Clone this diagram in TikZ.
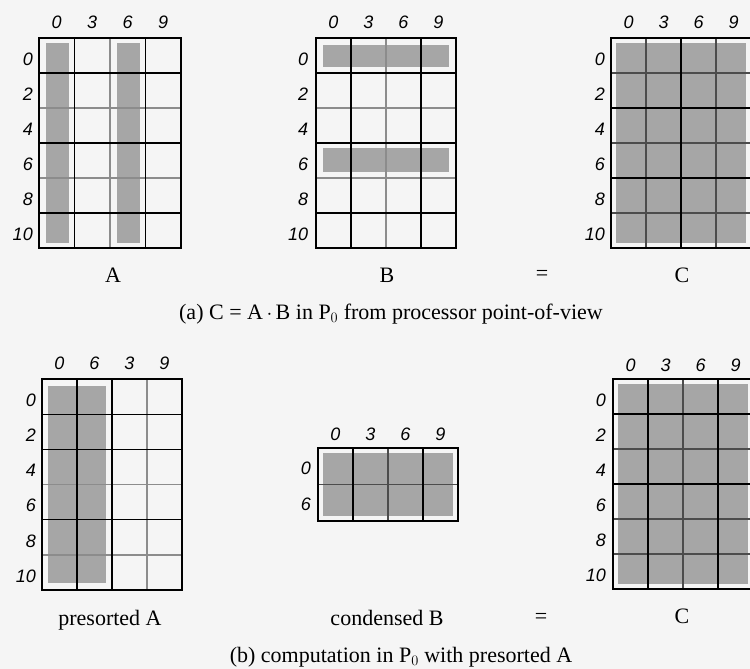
\documentclass[tikz,border=0pt]{standalone}
\usepackage{fontspec}
\setmainfont{Liberation Serif}
\setsansfont{Liberation Sans}
\usetikzlibrary{positioning}
\definecolor{paper}{HTML}{F5F5F5}
\definecolor{halftone}{HTML}{A6A6A6}

\begin{document}
\begin{tikzpicture}[x=1pt,y=-1pt,
  frame/.style={line width=2.4pt},
  hard/.style={line width=1.3pt},
  soft/.style={line width=1.3pt,color=black!45},
  dark/.style={line width=1.3pt,color=black!70},
  shade/.style={fill=halftone},
  idx/.style={font=\fontsize{18}{18}\selectfont\sffamily\itshape,inner sep=0pt},
  caption/.style={font=\fontsize{22}{22}\selectfont,inner sep=0pt}
]
  \fill[paper] (0,0) rectangle (750,669);
  \useasboundingbox (0,0) rectangle (750,669);

  \begin{scope}[shift={(39,38)},x=35.5pt,y=-35pt]
    \fill[shade] (0.2,0.15) rectangle (0.85,5.85);
    \fill[shade] (2.2,0.15) rectangle (2.85,5.85);
    \foreach \i in {2,4} \draw[soft] (0,\i) -- (4,\i);
    \draw[soft] (2,0) -- (2,6);
    \foreach \i in {1,3,5} \draw[hard] (0,\i) -- (4,\i);
    \foreach \j in {1,3} \draw[hard] (\j,0) -- (\j,6);
    \draw[frame] (0,0) rectangle (4,6);
    \foreach \c [count=\k from 0] in {0,3,6,9} \node[idx] (aTop\k) at (\k+0.5,-0.46) {\c};
    \foreach \r [count=\k from 0] in {0,2,4,6,8,10} \node[idx,anchor=east] (aRow\k) at (-0.17,\k+0.6) {\r};
  \end{scope}

  \begin{scope}[shift={(316,38)},x=35pt,y=-35pt]
    \fill[shade] (0.2,0.2) rectangle (3.8,0.83);
    \fill[shade] (0.2,3.14) rectangle (3.8,3.83);
    \foreach \i in {2,4} \draw[soft] (0,\i) -- (4,\i);
    \draw[soft] (2,0) -- (2,6);
    \foreach \i in {1,3,5} \draw[hard] (0,\i) -- (4,\i);
    \foreach \j in {1,3} \draw[hard] (\j,0) -- (\j,6);
    \draw[frame] (0,0) rectangle (4,6);
    \foreach \c [count=\k from 0] in {0,3,6,9} \node[idx] (bTop\k) at (\k+0.5,-0.46) {\c};
    \foreach \r [count=\k from 0] in {0,2,4,6,8,10} \node[idx,anchor=east] (bRow\k) at (-0.22,\k+0.6) {\r};
  \end{scope}

  \begin{scope}[shift={(611,38)},x=35pt,y=-35pt]
    \fill[shade] (0.15,0.15) rectangle (3.85,5.85);
    \foreach \i in {1,3,5} \draw[dark] (0,\i) -- (4,\i);
    \foreach \j in {1,3} \draw[dark] (\j,0) -- (\j,6);
    \foreach \i in {2,4} \draw[hard] (0,\i) -- (4,\i);
    \draw[hard] (2,0) -- (2,6);
    \draw[frame] (0,0) rectangle (4,6);
    \foreach \c [count=\k from 0] in {0,3,6,9} \node[idx] (cTop\k) at (\k+0.5,-0.46) {\c};
    \foreach \r [count=\k from 0] in {0,2,4,6,8,10} \node[idx,anchor=east] (cRow\k) at (-0.17,\k+0.6) {\r};
  \end{scope}

  \node[caption] (matA) at (113,275) {A};
  \node[caption] (matB) at (387,275) {B};
  \node[caption] (eqTop) at (542,275) {=};
  \node[caption] (matC) at (682,275) {C};
  \node[caption] (capA) at (391,314) {(a) C = A$\,\cdot\,$B in P$_0$ from processor point-of-view};

  \begin{scope}[shift={(42,379)},x=35pt,y=-35.2pt]
    \fill[shade] (0.17,0.2) rectangle (1.83,5.8);
    \foreach \i in {3,5} \draw[soft] (0,\i) -- (4,\i);
    \draw[soft] (3,0) -- (3,6);
    \foreach \i in {1,2,4} \draw[hard] (0,\i) -- (4,\i);
    \foreach \j in {1,2} \draw[hard] (\j,0) -- (\j,6);
    \draw[frame] (0,0) rectangle (4,6);
    \foreach \c [count=\k from 0] in {0,6,3,9} \node[idx] (pTop\k) at (\k+0.5,-0.45) {\c};
    \foreach \r [count=\k from 0] in {0,2,4,6,8,10} \node[idx,anchor=east] (pRow\k) at (-0.17,\k+0.6) {\r};
  \end{scope}

  \begin{scope}[shift={(318,448)},x=35pt,y=-36.5pt]
    \fill[shade] (0.15,0.15) rectangle (3.85,1.85);
    \draw[dark] (0,1) -- (4,1);
    \draw[dark] (2,0) -- (2,2);
    \foreach \j in {1,3} \draw[hard] (\j,0) -- (\j,2);
    \draw[frame] (0,0) rectangle (4,2);
    \foreach \c [count=\k from 0] in {0,3,6,9} \node[idx] (dTop\k) at (\k+0.5,-0.38) {\c};
    \foreach \r [count=\k from 0] in {0,6} \node[idx,anchor=east] (dRow\k) at (-0.2,\k+0.55) {\r};
  \end{scope}

  \begin{scope}[shift={(613,379)},x=35pt,y=-35pt]
    \fill[shade] (0.15,0.15) rectangle (3.85,5.85);
    \foreach \i in {2,4,5} \draw[dark] (0,\i) -- (4,\i);
    \draw[dark] (2,0) -- (2,6);
    \foreach \i in {1,3} \draw[hard] (0,\i) -- (4,\i);
    \foreach \j in {1,3} \draw[hard] (\j,0) -- (\j,6);
    \draw[frame] (0,0) rectangle (4,6);
    \foreach \c [count=\k from 0] in {0,3,6,9} \node[idx] (eTop\k) at (\k+0.5,-0.38) {\c};
    \foreach \r [count=\k from 0] in {0,2,4,6,8,10} \node[idx,anchor=east] (eRow\k) at (-0.2,\k+0.6) {\r};
  \end{scope}

  \node[caption] (sortA) at (110,620) {presorted A};
  \node[caption] (condB) at (387,618) {condensed B};
  \node[caption] (eqBot) at (541,618) {=};
  \node[caption] (matC2) at (682,616) {C};
  \node[caption] (capB) at (401,657) {(b) computation in P$_0$ with presorted A};
\end{tikzpicture}
\end{document}
